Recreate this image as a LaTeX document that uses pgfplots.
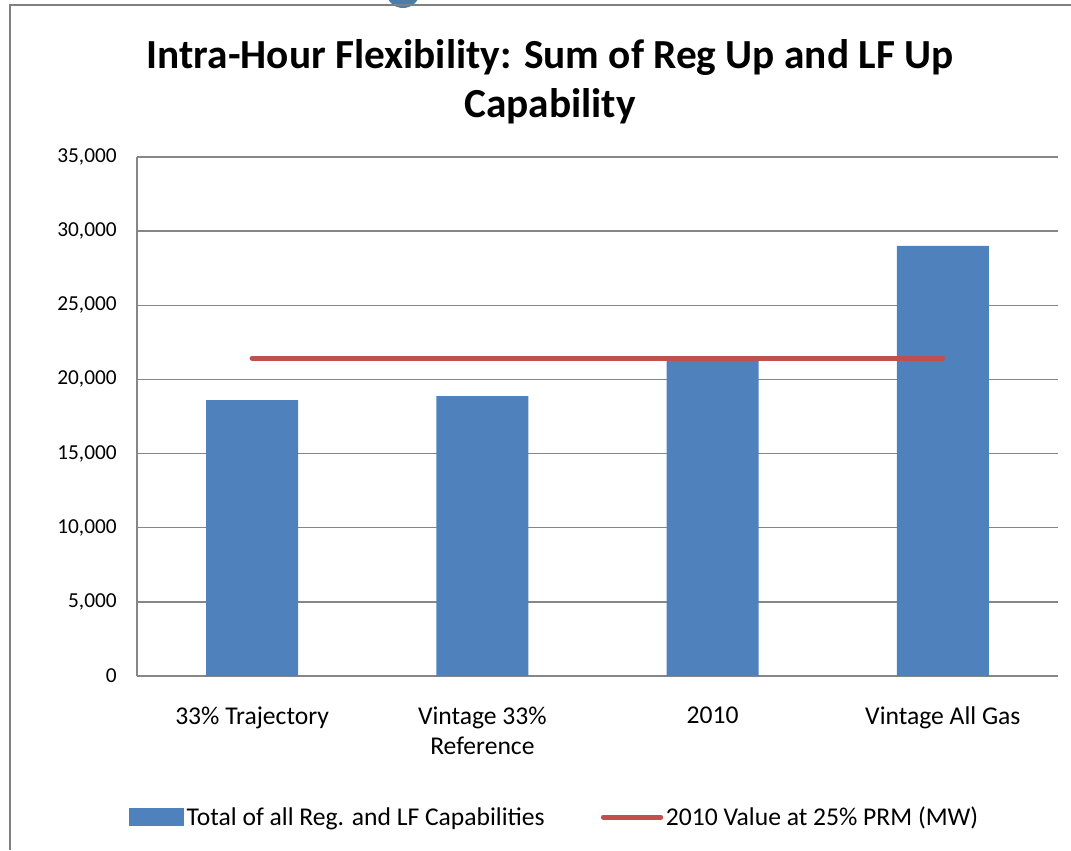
\documentclass[border=0pt]{standalone}
\usepackage{pgfplots}
\pgfplotsset{compat=1.18}
\usepackage{fontspec}
\setmainfont{Carlito}

\definecolor{barblue}{RGB}{79,129,189}
\definecolor{linered}{RGB}{192,80,77}
\definecolor{gridgray}{RGB}{134,134,134}
\definecolor{framegray}{RGB}{128,128,128}
\definecolor{dotblue}{RGB}{75,125,170}

\begin{document}
\begin{tikzpicture}[x=0.75pt,y=-0.75pt]
% page = 1071 x 850 px, 1 px = 0.75 pt
\path[use as bounding box] (0,0) rectangle (1071,850);
\begin{scope}
  \clip (0,0) rectangle (1071,850);
  \fill[dotblue] (403,-9) circle (17);
\end{scope}
\draw[framegray, line width=1.2pt] (10,850) -- (10,5) -- (1071,5);

% title
\node[font=\bfseries\fontsize{31}{36}\selectfont, anchor=base] at (550,68)
  {Intra-Hour Flexibility: Sum of Reg Up and LF Up};
\node[font=\bfseries\fontsize{31}{36}\selectfont, anchor=base] at (550,117)
  {Capability};

\begin{axis}[
    at={(102.75pt,-507pt)}, anchor=south west,
    scale only axis,
    width=690.75pt, height=389.25pt,
    xmin=-0.5, xmax=3.5,
    ymin=0, ymax=35000,
    ytick={0,5000,...,35000},
    xtick={0,1,2,3},
    xticklabels={33\% Trajectory, {Vintage 33\%\\Reference}, 2010, Vintage All Gas},
    axis lines*=left,
    axis line style={gridgray, line width=1.5pt},
    major tick length=0pt,
    ymajorgrids,
    major grid style={gridgray, line width=1.1pt},
    /pgf/number format/1000 sep={,},
    /pgf/number format/assume math mode=true,
    scaled y ticks=false,
    yticklabel style={font=\fontsize{16}{19}\selectfont, anchor=east, inner sep=0pt, xshift=-15pt},
    xticklabel style={font=\fontsize{19.2}{22.5}\selectfont, anchor=north, align=center, inner sep=0pt, yshift=-23pt},
    legend style={at={(0.454,-0.272)}, anchor=center, draw=none,
        font=\fontsize{19.2}{22}\selectfont,
        /tikz/every even column/.append style={column sep=40pt}},
    legend columns=2,
]

\addplot[ybar, bar width=69pt, fill=barblue, draw=none,
    legend image code/.code={\fill[barblue] (0pt,-6.75pt) rectangle (41pt,6.75pt);}]
    coordinates {(0,18600) (1,18870) (2,21250) (3,29000)};
\addlegendentry{Total of all Reg. and LF Capabilities}

\addplot[sharp plot, no markers, linered, line width=3.75pt, line cap=round,
    legend image code/.code={\draw[linered, line width=3.75pt] (0pt,0pt) -- (43pt,0pt);}]
    coordinates {(0,21440) (3,21440)};
\addlegendentry{2010 Value at 25\% PRM (MW)}

\end{axis}
\end{tikzpicture}
\end{document}
